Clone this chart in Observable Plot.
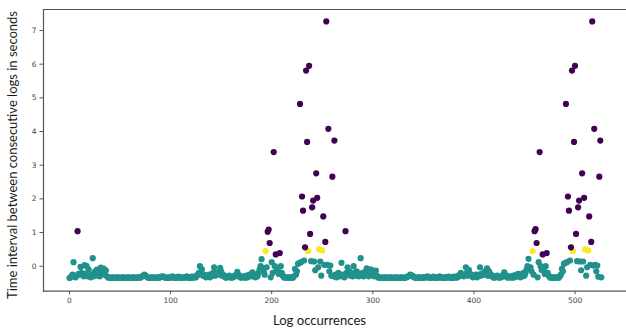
<!DOCTYPE html>
<html><head><meta charset="utf-8">
<script src="https://cdn.jsdelivr.net/npm/d3@7"></script>
<script src="https://cdn.jsdelivr.net/npm/@observablehq/plot@0.6"></script>
<style>html,body{margin:0;padding:0;background:#fff;overflow:hidden;} svg{display:block}</style>
</head><body><div id="chart"></div>
<script>
// Cluster 0 (purple): log occurrence index and time interval (s)
const purpleX = [8,196,197,198,202,204,208,228,230,231,233,234,235,237,238,240,241,244,245,251,253,254,256,260,262,273,
  460,461,462,465,468,472,491,493,494,496,497,499,500,501,503,504,507,509,514,516,517,519,524,525];
const purpleY = [1.04,1.02,1.09,0.69,3.39,0.35,0.39,4.82,2.07,1.65,0.56,5.81,3.69,5.95,0.96,1.75,1.95,2.76,2.03,1.48,0.72,7.27,4.08,2.66,3.73,1.04,
  1.04,1.10,0.69,3.39,0.35,0.39,4.82,2.07,1.65,0.56,5.81,3.69,5.95,0.96,1.75,1.95,2.76,2.03,1.48,0.72,7.27,4.08,2.66,3.73];
// Cluster 2 (yellow)
const yellowX = [194,236,247,250,458,498,510,513];
const yellowY = [0.45,0.45,0.50,0.47,0.45,0.45,0.50,0.47];
// Cluster 1 (teal): value per log occurrence index (null = point belongs to another cluster)
const tealY = [
 -0.35,-0.33,-0.30,-0.25,0.12,-0.30,-0.33,-0.28,null,-0.23,
 -0.25,-0.02,-0.20,-0.24,-0.30,0.03,-0.22,0.00,-0.30,-0.10,
 -0.28,-0.33,-0.25,0.24,-0.30,-0.17,-0.25,-0.10,-0.28,-0.20,
 -0.30,-0.04,-0.18,-0.07,-0.08,-0.25,-0.13,-0.30,-0.33,-0.34,
 -0.34,-0.35,-0.34,-0.33,-0.34,-0.35,-0.34,-0.34,-0.33,-0.34,
 -0.35,-0.34,-0.34,-0.33,-0.34,-0.34,-0.35,-0.34,-0.33,-0.34,
 -0.34,-0.35,-0.34,-0.33,-0.34,-0.34,-0.35,-0.34,-0.33,-0.34,
 -0.34,-0.32,-0.30,-0.28,-0.25,-0.27,-0.30,-0.33,-0.34,-0.35,
 -0.34,-0.34,-0.33,-0.34,-0.35,-0.34,-0.34,-0.33,-0.34,-0.34,
 -0.32,-0.31,-0.30,-0.31,-0.33,-0.34,-0.35,-0.34,-0.33,-0.34,
 -0.34,-0.32,-0.30,-0.33,-0.34,-0.35,-0.34,-0.33,-0.31,-0.33,
 -0.34,-0.35,-0.34,-0.32,-0.34,-0.33,-0.30,-0.32,-0.34,-0.35,
 -0.34,-0.31,-0.33,-0.34,-0.30,-0.33,-0.28,-0.25,-0.20,0.00,
 -0.20,-0.09,-0.28,-0.25,-0.30,-0.33,-0.28,-0.31,-0.25,-0.33,
 -0.30,-0.25,-0.20,-0.03,-0.28,-0.22,-0.20,-0.25,-0.15,-0.05,
 -0.15,-0.28,-0.25,-0.30,-0.33,-0.34,-0.30,-0.32,-0.28,-0.33,
 -0.34,-0.31,-0.33,-0.30,-0.28,-0.25,-0.17,-0.30,-0.27,-0.33,
 -0.34,-0.32,-0.30,-0.33,-0.34,-0.28,-0.33,-0.30,-0.25,-0.30,
 -0.28,-0.18,-0.30,-0.28,-0.33,-0.25,-0.30,-0.20,-0.10,0.00,
 0.21,-0.05,-0.15,-0.25,null,-0.03,null,null,null,-0.33,
 0.12,-0.20,null,0.00,null,-0.11,-0.13,-0.23,null,0.00,
 -0.20,-0.28,-0.33,-0.34,-0.33,-0.34,-0.34,-0.33,-0.34,-0.34,
 -0.33,-0.34,-0.30,-0.08,-0.25,-0.15,0.07,0.09,null,0.12,
 null,null,0.17,null,null,null,null,null,null,0.15,
 null,null,0.14,-0.12,null,null,-0.03,null,0.14,-0.28,
 null,null,0.04,null,null,0.04,null,-0.15,0.02,-0.28,
 null,-0.30,null,-0.25,-0.33,-0.28,-0.20,-0.30,-0.25,0.10,
 -0.30,-0.25,-0.33,null,-0.20,-0.03,-0.25,-0.15,-0.28,-0.22,
 -0.30,0.00,-0.20,-0.28,-0.15,-0.25,-0.30,-0.22,0.24,-0.28,
 -0.20,-0.30,-0.25,-0.15,-0.06,-0.25,-0.30,-0.20,-0.09,-0.13,
 -0.25,-0.30,-0.20,-0.13,-0.28,-0.33,-0.34,-0.33,-0.34,-0.35,
 -0.34,-0.34,-0.33,-0.34,-0.35,-0.34,-0.34,-0.33,-0.34,-0.34,
 -0.35,-0.34,-0.34,-0.33,-0.34,-0.34,-0.35,-0.34,-0.33,-0.34,
 -0.34,-0.35,-0.34,-0.33,-0.32,-0.30,-0.28,-0.25,-0.27,-0.28,
 -0.31,-0.33,-0.34,-0.35,-0.34,-0.33,-0.34,-0.34,-0.35,-0.34,
 -0.32,-0.33,-0.34,-0.32,-0.30,-0.33,-0.34,-0.35,-0.34,-0.33,
 -0.31,-0.33,-0.34,-0.35,-0.34,-0.32,-0.30,-0.34,-0.33,-0.34,
 -0.35,-0.34,-0.32,-0.34,-0.33,-0.31,-0.33,-0.34,-0.35,-0.34,
 -0.31,-0.33,-0.34,-0.30,-0.33,-0.28,-0.25,-0.20,-0.28,-0.25,
 -0.30,-0.25,-0.03,-0.20,-0.28,-0.11,-0.22,-0.25,-0.30,-0.33,
 -0.28,-0.31,-0.25,-0.33,-0.30,-0.25,-0.03,-0.28,-0.22,-0.25,
 -0.20,-0.15,-0.25,-0.06,-0.28,-0.15,-0.28,-0.25,-0.30,-0.33,
 -0.34,-0.30,-0.32,-0.28,-0.33,-0.34,-0.31,-0.33,-0.30,-0.25,
 -0.18,-0.30,-0.27,-0.33,-0.34,-0.32,-0.30,-0.33,-0.34,-0.28,
 -0.33,-0.30,-0.25,-0.30,-0.23,-0.30,-0.33,-0.25,-0.30,-0.20,
 -0.28,-0.20,-0.10,0.00,0.22,-0.05,-0.03,-0.15,null,-0.25,
 null,null,null,-0.33,0.12,null,0.00,-0.11,null,-0.13,
 -0.23,0.00,null,-0.20,-0.28,-0.33,-0.34,-0.33,-0.34,-0.34,
 -0.33,-0.34,-0.34,-0.33,-0.34,-0.30,-0.25,-0.08,-0.15,0.07,
 0.09,null,0.12,null,null,0.17,null,null,null,null,
 null,null,0.15,null,null,0.14,-0.12,null,0.14,null,
 null,-0.28,-0.03,null,null,0.04,null,null,0.02,null,
 0.04,-0.15,0.02,-0.31,null,null,-0.33
];
const xTicks = [0, 100, 200, 300, 400, 500];
const yTicks = [0, 1, 2, 3, 4, 5, 6, 7];
const xLabel = "Log occurrences";
const yLabel = "Time interval between consecutive logs in seconds";
const colPurple = "#440154", colTeal = "#21918c", colYellow = "#fde725";

const teal = tealY.map((y, i) => ({x: i, y})).filter(d => d.y !== null);
const purple = purpleX.map((x, i) => ({x, y: purpleY[i]}));
const yellow = yellowX.map((x, i) => ({x, y: yellowY[i]}));

const chart = Plot.plot({
  width: 626, height: 329,
  marginLeft: 43, marginRight: 0, marginTop: 9, marginBottom: 38.3,
  x: {domain: [-25.7, 550.9]},
  y: {domain: [-0.742, 7.624]},
  style: {fontFamily: "DejaVu Sans", fontSize: "7.5px", color: "#444", background: "#fff"},
  marks: [
    Plot.dot(teal, {x: "x", y: "y", r: 3.1, fill: colTeal, stroke: "none"}),
    Plot.dot(yellow, {x: "x", y: "y", r: 3.1, fill: colYellow, stroke: "none"}),
    Plot.dot(purple, {x: "x", y: "y", r: 3.1, fill: colPurple, stroke: "none"}),
    Plot.axisX({ticks: xTicks, tickSize: 3.5, tickPadding: 2.5, label: null, stroke: "#555", tickFormat: d3.format("d")}),
    Plot.axisY({ticks: yTicks, tickSize: 3.5, tickPadding: 3.5, label: null, stroke: "#555", tickFormat: d3.format("d")}),
    Plot.frame({anchor: "left", stroke: "#555", strokeWidth: 1.2}),
    Plot.frame({anchor: "top", stroke: "#555", strokeWidth: 1.2}),
    Plot.frame({anchor: "bottom", stroke: "#555", strokeWidth: 1.2})
  ]
});
document.getElementById("chart").appendChild(chart);

const svg = d3.select(chart);
svg.append("text")
  .attr("x", 319.5).attr("y", 324.5)
  .attr("text-anchor", "middle")
  .attr("textLength", 93).attr("lengthAdjust", "spacingAndGlyphs")
  .style("font-family", "Lato, 'Open Sans', sans-serif").style("font-size", "14px").style("fill", "#1a1a1a")
  .text(xLabel);
svg.append("text")
  .attr("transform", "translate(17,155) rotate(-90)")
  .attr("text-anchor", "middle")
  .attr("textLength", 288).attr("lengthAdjust", "spacingAndGlyphs")
  .style("font-family", "Lato, 'Open Sans', sans-serif").style("font-size", "13.5px").style("fill", "#1a1a1a")
  .text(yLabel);
</script>
</body></html>
